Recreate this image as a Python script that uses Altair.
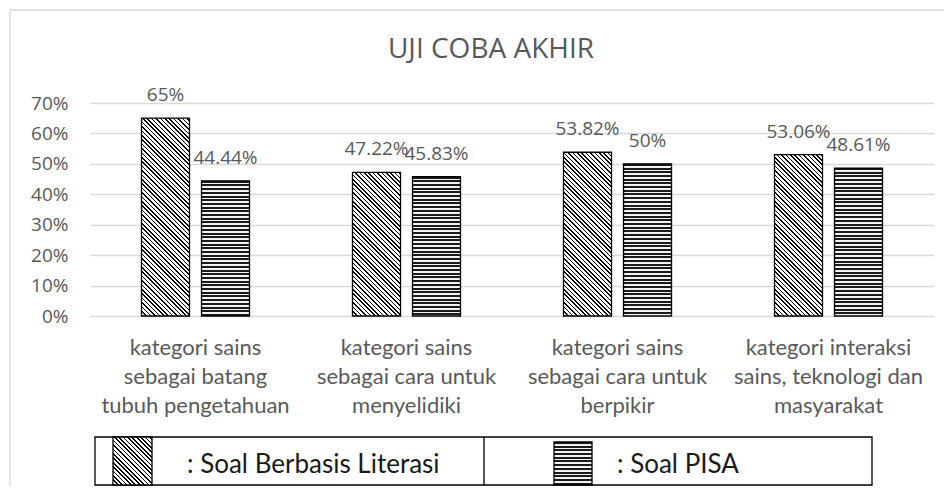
import json
import altair as alt
import pandas as pd

# ---------------- data ----------------
TITLE = "UJI COBA AKHIR"
categories = [
    "kategori sains\nsebagai batang\ntubuh pengetahuan",
    "kategori sains\nsebagai cara untuk\nmenyelidiki",
    "kategori sains\nsebagai cara untuk\nberpikir",
    "kategori interaksi\nsains, teknologi dan\nmasyarakat",
]
series = ["Soal Berbasis Literasi", "Soal PISA"]
literasi = [65, 47.22, 53.82, 53.06]
pisa = [44.44, 45.83, 50, 48.61]

# ---------------- layout / style ----------------
W, H = 844, 213
YMAX = 70
BAR_W = 48
GRAY = "#595959"
GRID = "#d9d9d9"


def stripe_stops(length, period, line, dark="#000000", light="#ffffff"):
    stops = []
    pos = 0.0
    while pos < length:
        a = round(pos / length, 5)
        b = round(min((pos + line) / length, 1.0), 5)
        c = round(min((pos + period) / length, 1.0), 5)
        stops += [
            {"offset": a, "color": dark},
            {"offset": b, "color": dark},
            {"offset": b, "color": light},
            {"offset": c, "color": light},
        ]
        pos += period
    return stops


def diag_fill(w, h):
    # "\" hatching, 45 degrees in pixel space (objectBoundingBox gradient)
    k = (w + h) / (w * w + h * h)
    return {
        "gradient": "linear",
        "x1": 0, "y1": 1,
        "x2": round(w * k, 6), "y2": round(1 - h * k, 6),
        "stops": stripe_stops(w + h, 4.4, 1.7),
    }


def horiz_fill(h):
    return {
        "gradient": "linear",
        "x1": 0, "y1": 0, "x2": 0, "y2": 1,
        "stops": stripe_stops(h, 3.7, 2.0, dark="#1a1a1a", light="#f2f2f2"),
    }


rows = []
for i, (c, a, b) in enumerate(zip(categories, literasi, pisa)):
    rows.append({"idx": 2 * i, "kategori": c, "seri": series[0], "nilai": a})
    rows.append({"idx": 2 * i + 1, "kategori": c, "seri": series[1], "nilai": b})
df = pd.DataFrame(rows)

x_enc = alt.X(
    "kategori:N",
    scale=alt.Scale(domain=categories, paddingInner=0, paddingOuter=0),
    axis=alt.Axis(
        title=None, labelAngle=0, domain=False, ticks=False,
        labelExpr="split(datum.label, '\\n')",
        labelFont="Lato", labelFontSize=22, labelColor=GRAY,
        labelLineHeight=29, labelPadding=21, labelBaseline="top",
        labelLimit=400, labelOverlap=False,
    ),
)
xo_enc = alt.XOffset(
    "seri:N", scale=alt.Scale(domain=series, paddingInner=0.2, paddingOuter=0.858)
)
y_enc = alt.Y(
    "nilai:Q",
    scale=alt.Scale(domain=[0, YMAX], nice=False),
    axis=alt.Axis(
        title=None, values=list(range(0, YMAX + 1, 10)), domain=False, ticks=False,
        grid=True, gridColor=GRID, gridWidth=1.3,
        labelExpr="datum.value + '%'", labelFont="Open Sans", labelFontSize=19,
        labelColor=GRAY, labelPadding=22,
    ),
)

one = pd.DataFrame({"a": [1]})
layers = []

# outer frame (top and left edges)
layers.append(alt.Chart(one).mark_rule(color=GRID, strokeWidth=1.3).encode(
    x=alt.value(-80), y=alt.value(-93), y2=alt.value(383)))
layers.append(alt.Chart(one).mark_rule(color=GRID, strokeWidth=1.3).encode(
    x=alt.value(-80), x2=alt.value(854), y=alt.value(-93)))

# bars with hatch fills
for r in rows:
    h = r["nilai"] / YMAX * H
    fill = diag_fill(BAR_W, h) if r["seri"] == series[0] else horiz_fill(h)
    layers.append(
        alt.Chart(df)
        .transform_filter(f"datum.idx == {r['idx']}")
        .mark_bar(fill=fill, stroke="#000000", strokeWidth=1.3)
        .encode(x=x_enc, xOffset=xo_enc, y=y_enc)
    )

# value labels
layers.append(
    alt.Chart(df)
    .transform_calculate(label="format(datum.nilai, '.4~') + '%'")
    .mark_text(font="Open Sans", fontSize=19, color=GRAY, baseline="middle", dy=-23)
    .encode(x=x_enc, xOffset=xo_enc, y=y_enc, text="label:N")
)

# title
layers.append(alt.Chart(pd.DataFrame({"t": [TITLE]})).mark_text(
    font="Open Sans", fontSize=28, color=GRAY, align="center", baseline="middle"
).encode(x=alt.value(401), y=alt.value(-53), text="t:N"))

# legend box
layers.append(alt.Chart(one).mark_rect(fill="#ffffff", stroke="#000000", strokeWidth=1.3).encode(
    x=alt.value(5), x2=alt.value(782), y=alt.value(334), y2=alt.value(382)))
layers.append(alt.Chart(one).mark_rule(color="#000000", strokeWidth=1.3).encode(
    x=alt.value(394), y=alt.value(334), y2=alt.value(382)))

# legend swatches
layers.append(alt.Chart(one).mark_rect(fill=diag_fill(39, 48), stroke="#000000", strokeWidth=1.3).encode(
    x=alt.value(23), x2=alt.value(62), y=alt.value(334), y2=alt.value(382)))
layers.append(alt.Chart(one).mark_rect(fill=horiz_fill(43), stroke="#000000", strokeWidth=1.3).encode(
    x=alt.value(464), x2=alt.value(502), y=alt.value(339), y2=alt.value(382)))

# legend labels
legend_x = [97, 527]
for s, lx in zip(series, legend_x):
    layers.append(alt.Chart(pd.DataFrame({"t": [": " + s]})).mark_text(
        font="Lato", fontSize=26, color="#1a1a1a", align="left", baseline="middle"
    ).encode(x=alt.value(lx), y=alt.value(362), text="t:N"))

chart = (
    alt.layer(*layers)
    .properties(
        width=W, height=H,
        padding={"left": 82, "top": 95, "right": 10, "bottom": 170},
        autosize=alt.AutoSizeParams(type="none"),
        background="#ffffff",
    )
    .configure_view(stroke=None)
)

chart.save("out.html", embed_options={"renderer": "svg", "actions": False})
